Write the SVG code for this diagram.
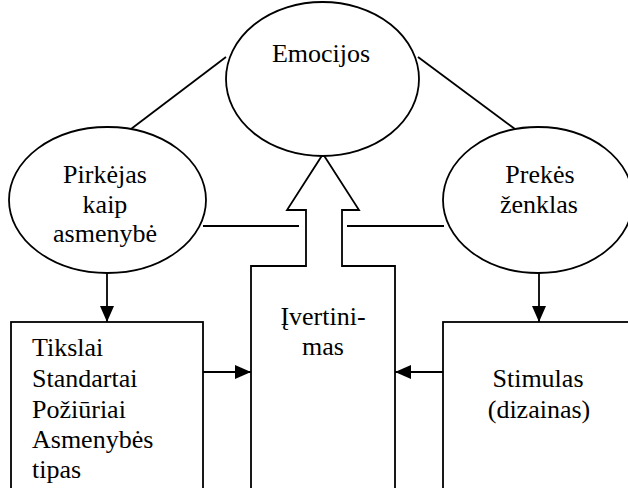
<svg xmlns="http://www.w3.org/2000/svg" width="628" height="488" viewBox="0 0 628 488">
  <style>
    .shape { fill: #fff; stroke: #000; stroke-width: 1.8; }
    .line { fill: none; stroke: #000; stroke-width: 1.8; }
    .label { font-family: 'Liberation Serif', 'DejaVu Serif', serif; font-size: 26px; fill: #000; }
    .mid { text-anchor: middle; }
  </style>
  <defs>
    <marker id="arrow" viewBox="0 0 16 14" refX="16" refY="7" markerWidth="16" markerHeight="14" markerUnits="userSpaceOnUse" orient="auto">
      <path d="M0,0 L16,7 L0,14 Z" fill="#000"/>
    </marker>
  </defs>

  <rect width="628" height="488" fill="#fff"/>

  <!-- connectors -->
  <g id="connectors">
    <line class="line" x1="226" y1="57" x2="131" y2="129"/>
    <line class="line" x1="418" y1="57" x2="515" y2="129"/>
    <line class="line" x1="203" y1="226" x2="299" y2="226"/>
    <line class="line" x1="347" y1="226" x2="444" y2="226"/>
    <line class="line" x1="107" y1="273" x2="107" y2="322" marker-end="url(#arrow)"/>
    <line class="line" x1="539" y1="273" x2="539" y2="322" marker-end="url(#arrow)"/>
    <line class="line" x1="203" y1="372" x2="251" y2="372" marker-end="url(#arrow)"/>
    <line class="line" x1="443" y1="372" x2="395" y2="372" marker-end="url(#arrow)"/>
  </g>

  <!-- central evaluation block with upward arrow -->
  <g id="ivertinimas">
    <path class="shape" d="M323,154 L359,210 L342,210 L342,266 L395,266 L395,492 L251,492 L251,266 L306,266 L306,210 L287,210 Z"/>
    <text class="label mid" x="323" y="325">Įvertini-</text>
    <text class="label mid" x="323" y="355">mas</text>
  </g>

  <g id="emocijos">
    <ellipse class="shape" cx="322.5" cy="79" rx="96.5" ry="77"/>
    <text class="label mid" x="321" y="62">Emocijos</text>
  </g>

  <g id="pirkejas">
    <ellipse class="shape" cx="107.5" cy="200" rx="98.5" ry="73"/>
    <text class="label mid" x="105" y="183">Pirkėjas</text>
    <text class="label mid" x="105" y="212.5">kaip</text>
    <text class="label mid" x="105" y="242">asmenybė</text>
  </g>

  <g id="prekes">
    <ellipse class="shape" cx="538" cy="200" rx="95" ry="73"/>
    <text class="label mid" x="540" y="183">Prekės</text>
    <text class="label mid" x="539" y="213">ženklas</text>
  </g>

  <g id="tikslai">
    <rect class="shape" x="11" y="322" width="192" height="170"/>
    <text class="label" x="32" y="356">Tikslai</text>
    <text class="label" x="32" y="387">Standartai</text>
    <text class="label" x="32" y="418">Požiūriai</text>
    <text class="label" x="32" y="448">Asmenybės</text>
    <text class="label" x="32" y="478">tipas</text>
  </g>

  <g id="stimulas">
    <rect class="shape" x="443" y="322" width="190" height="170"/>
    <text class="label mid" x="538" y="387">Stimulas</text>
    <text class="label mid" x="539" y="418">(dizainas)</text>
  </g>
</svg>
